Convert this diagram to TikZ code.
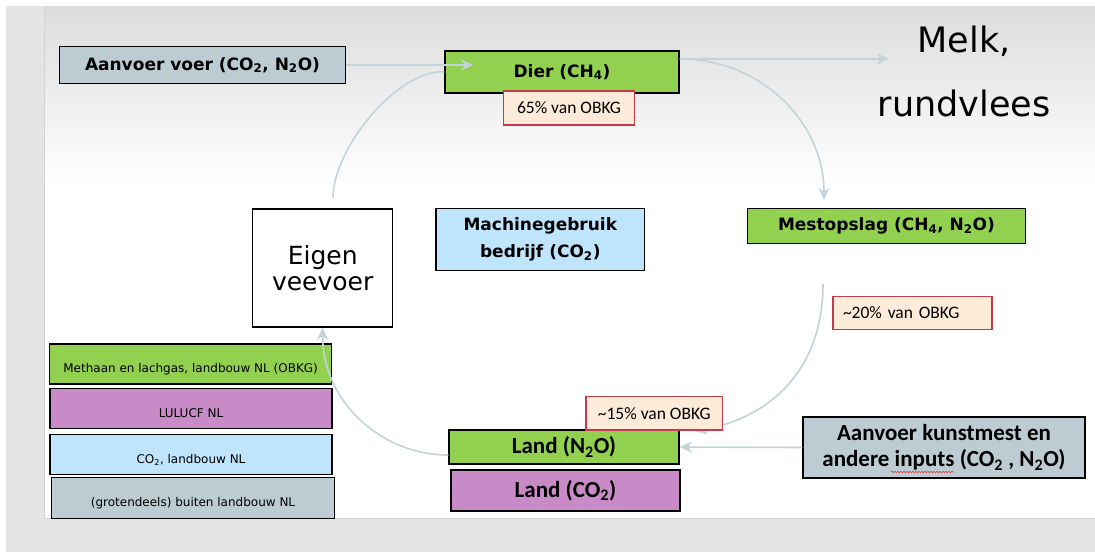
\documentclass[tikz,border=0pt]{standalone}
\usepackage{fontspec}
\setmainfont{DejaVu Sans}
\newfontfamily\calfont{Carlito}
\usetikzlibrary{arrows.meta,decorations.pathmorphing}
\definecolor{grn}{HTML}{92D050}
\definecolor{prp}{HTML}{C98BC7}
\definecolor{lbl}{HTML}{BEE5FB}
\definecolor{gbl}{HTML}{BDCCD2}
\definecolor{pch}{HTML}{FDEBD9}
\definecolor{rd}{HTML}{C3394D}
\definecolor{arr}{HTML}{C4D3D9}
\definecolor{bgg}{HTML}{E4E4E4}
\definecolor{slidetop}{HTML}{DCDCDC}
\definecolor{edge}{HTML}{D2D2D2}
\definecolor{spell}{HTML}{E03A3A}
\newcommand\fBold{\fontsize{17}{26.5}\selectfont\bfseries}
\newcommand\fCalB{\calfont\fontsize{23}{26}\selectfont\bfseries}
\newcommand\fCal{\calfont\fontsize{17.5}{20}\selectfont}
\newcommand\fLeg{\fontsize{12}{14}\selectfont}
\begin{document}
\begin{tikzpicture}[x=1pt,y=-1pt,
  box/.style={draw=black,line width=1.4pt,inner sep=0pt,align=center},
  pbox/.style={draw=rd,fill=pch,line width=1.2pt,inner sep=0pt,font=\fCal},
  legbox/.style={box,font=\fLeg,minimum width=282pt,minimum height=40pt,text height=20pt,text depth=2.2pt},
  conn/.style={draw=arr,line width=1.6pt},
  tip/.style={-{Stealth[length=12pt,width=11pt,inset=3.5pt]}}]
\useasboundingbox (0,0) rectangle (1095,552);
% background
\fill[white] (0,0) rectangle (1095,552);
\fill[bgg] (6,6) rectangle (1095,552);
\shade[top color=slidetop,bottom color=white] (45,6) rectangle (1095,185);
\fill[white] (45,185) rectangle (1095,518);
\draw[line width=1pt,draw=edge] (44.5,6) -- (44.5,518) -- (1095,518);

% nodes
\node[box,fill=gbl,minimum width=286pt,minimum height=37pt,font=\fBold] (voer) at (202.5,65) {Aanvoer voer (CO\textsubscript{2}, N\textsubscript{2}O)};
\node[box,fill=grn,minimum width=234pt,minimum height=42pt,font=\fBold] (dier) at (562,72) {Dier (CH\textsubscript{4})};
\node[pbox,minimum width=131pt,minimum height=34pt] (p65) at (569,108) {65\% van OBKG};
\node[align=center,inner sep=0pt,anchor=north,font=\fontsize{35}{64}\selectfont] (melk) at (964,25.5) {Melk,\\rundvlees};
\node[box,fill=white,minimum width=140pt,minimum height=118pt,font=\fontsize{25}{26.5}\selectfont] (eigen) at (322.7,268) {Eigen\\veevoer};
\node[box,fill=lbl,minimum width=208.5pt,minimum height=62pt,font=\fBold] (mach) at (540.3,239.3) {Machinegebruik\\bedrijf (CO\textsubscript{2})};
\node[box,fill=grn,minimum width=277.5pt,minimum height=35.5pt,font=\fBold] (mest) at (886.5,226) {Mestopslag (CH\textsubscript{4}, N\textsubscript{2}O)};
\node[pbox,text width=139pt,align=left,inner xsep=10pt,minimum height=32.6pt] (p20) at (912.5,313) {\textasciitilde 20\% van OBKG};
\node[box,fill=grn,minimum width=230pt,minimum height=34pt,font=\fCalB] (landn) at (564,447) {Land (N\textsubscript{2}O)};
\node[box,fill=prp,minimum width=229pt,minimum height=41pt,font=\fCalB] (landc) at (565.5,490.5) {Land (CO\textsubscript{2})};
\node[box,fill=gbl,minimum width=282pt,minimum height=61pt,font=\fCalB] (kunst) at (944,447.5) {Aanvoer kunstmest en\\andere inputs (CO\textsubscript{2} , N\textsubscript{2}O)};
\node[legbox,fill=grn] (leg1) at (190.6,363.8) {Methaan en lachgas, landbouw NL (OBKG)};
\node[legbox,fill=prp] (leg2) at (191,408.7) {LULUCF NL};
\node[legbox,fill=lbl] (leg3) at (191,454.3) {CO\textsubscript{2}, landbouw NL};
\node[legbox,fill=gbl,minimum width=283pt,minimum height=41pt] (leg4) at (193,497.7) {(grotendeels) buiten landbouw NL};

% free ends
\coordinate (eigtop) at (333,198);
\coordinate (melkpt) at (889,59);
\coordinate (mestin) at (824,200);
\coordinate (mestout) at (823,284);
\coordinate (landin) at (695,431);

% connectors
\draw[conn] (eigtop) .. controls (333,147) and (400,68) .. (dier.west);
\draw[conn,tip] (voer.east) -- ([xshift=29pt]dier.west |- voer.east);
\draw[conn,tip] ([yshift=13pt]dier.east) -- (melkpt);
\draw[conn,tip] ([yshift=13pt]dier.east) .. controls (761,59) and (824,122) .. (mestin);
\draw[conn,tip] (mestout) .. controls (823,370) and (770,418) .. (landin);
\draw[conn,tip] ([yshift=-8pt]landn.west) .. controls (379,455) and (322,399) .. (eigen.south);
\draw[conn,tip] (kunst.west) -- (landn.east);

\node[pbox,minimum width=136.3pt,minimum height=33.3pt] (p15) at (654.2,413.4) {\textasciitilde 15\% van OBKG};

% spell-check underline
\draw[spell,line width=0.6pt,decorate,decoration={snake,amplitude=0.8pt,segment length=3pt}] (891,472) -- (954,472);
\end{tikzpicture}
\end{document}
